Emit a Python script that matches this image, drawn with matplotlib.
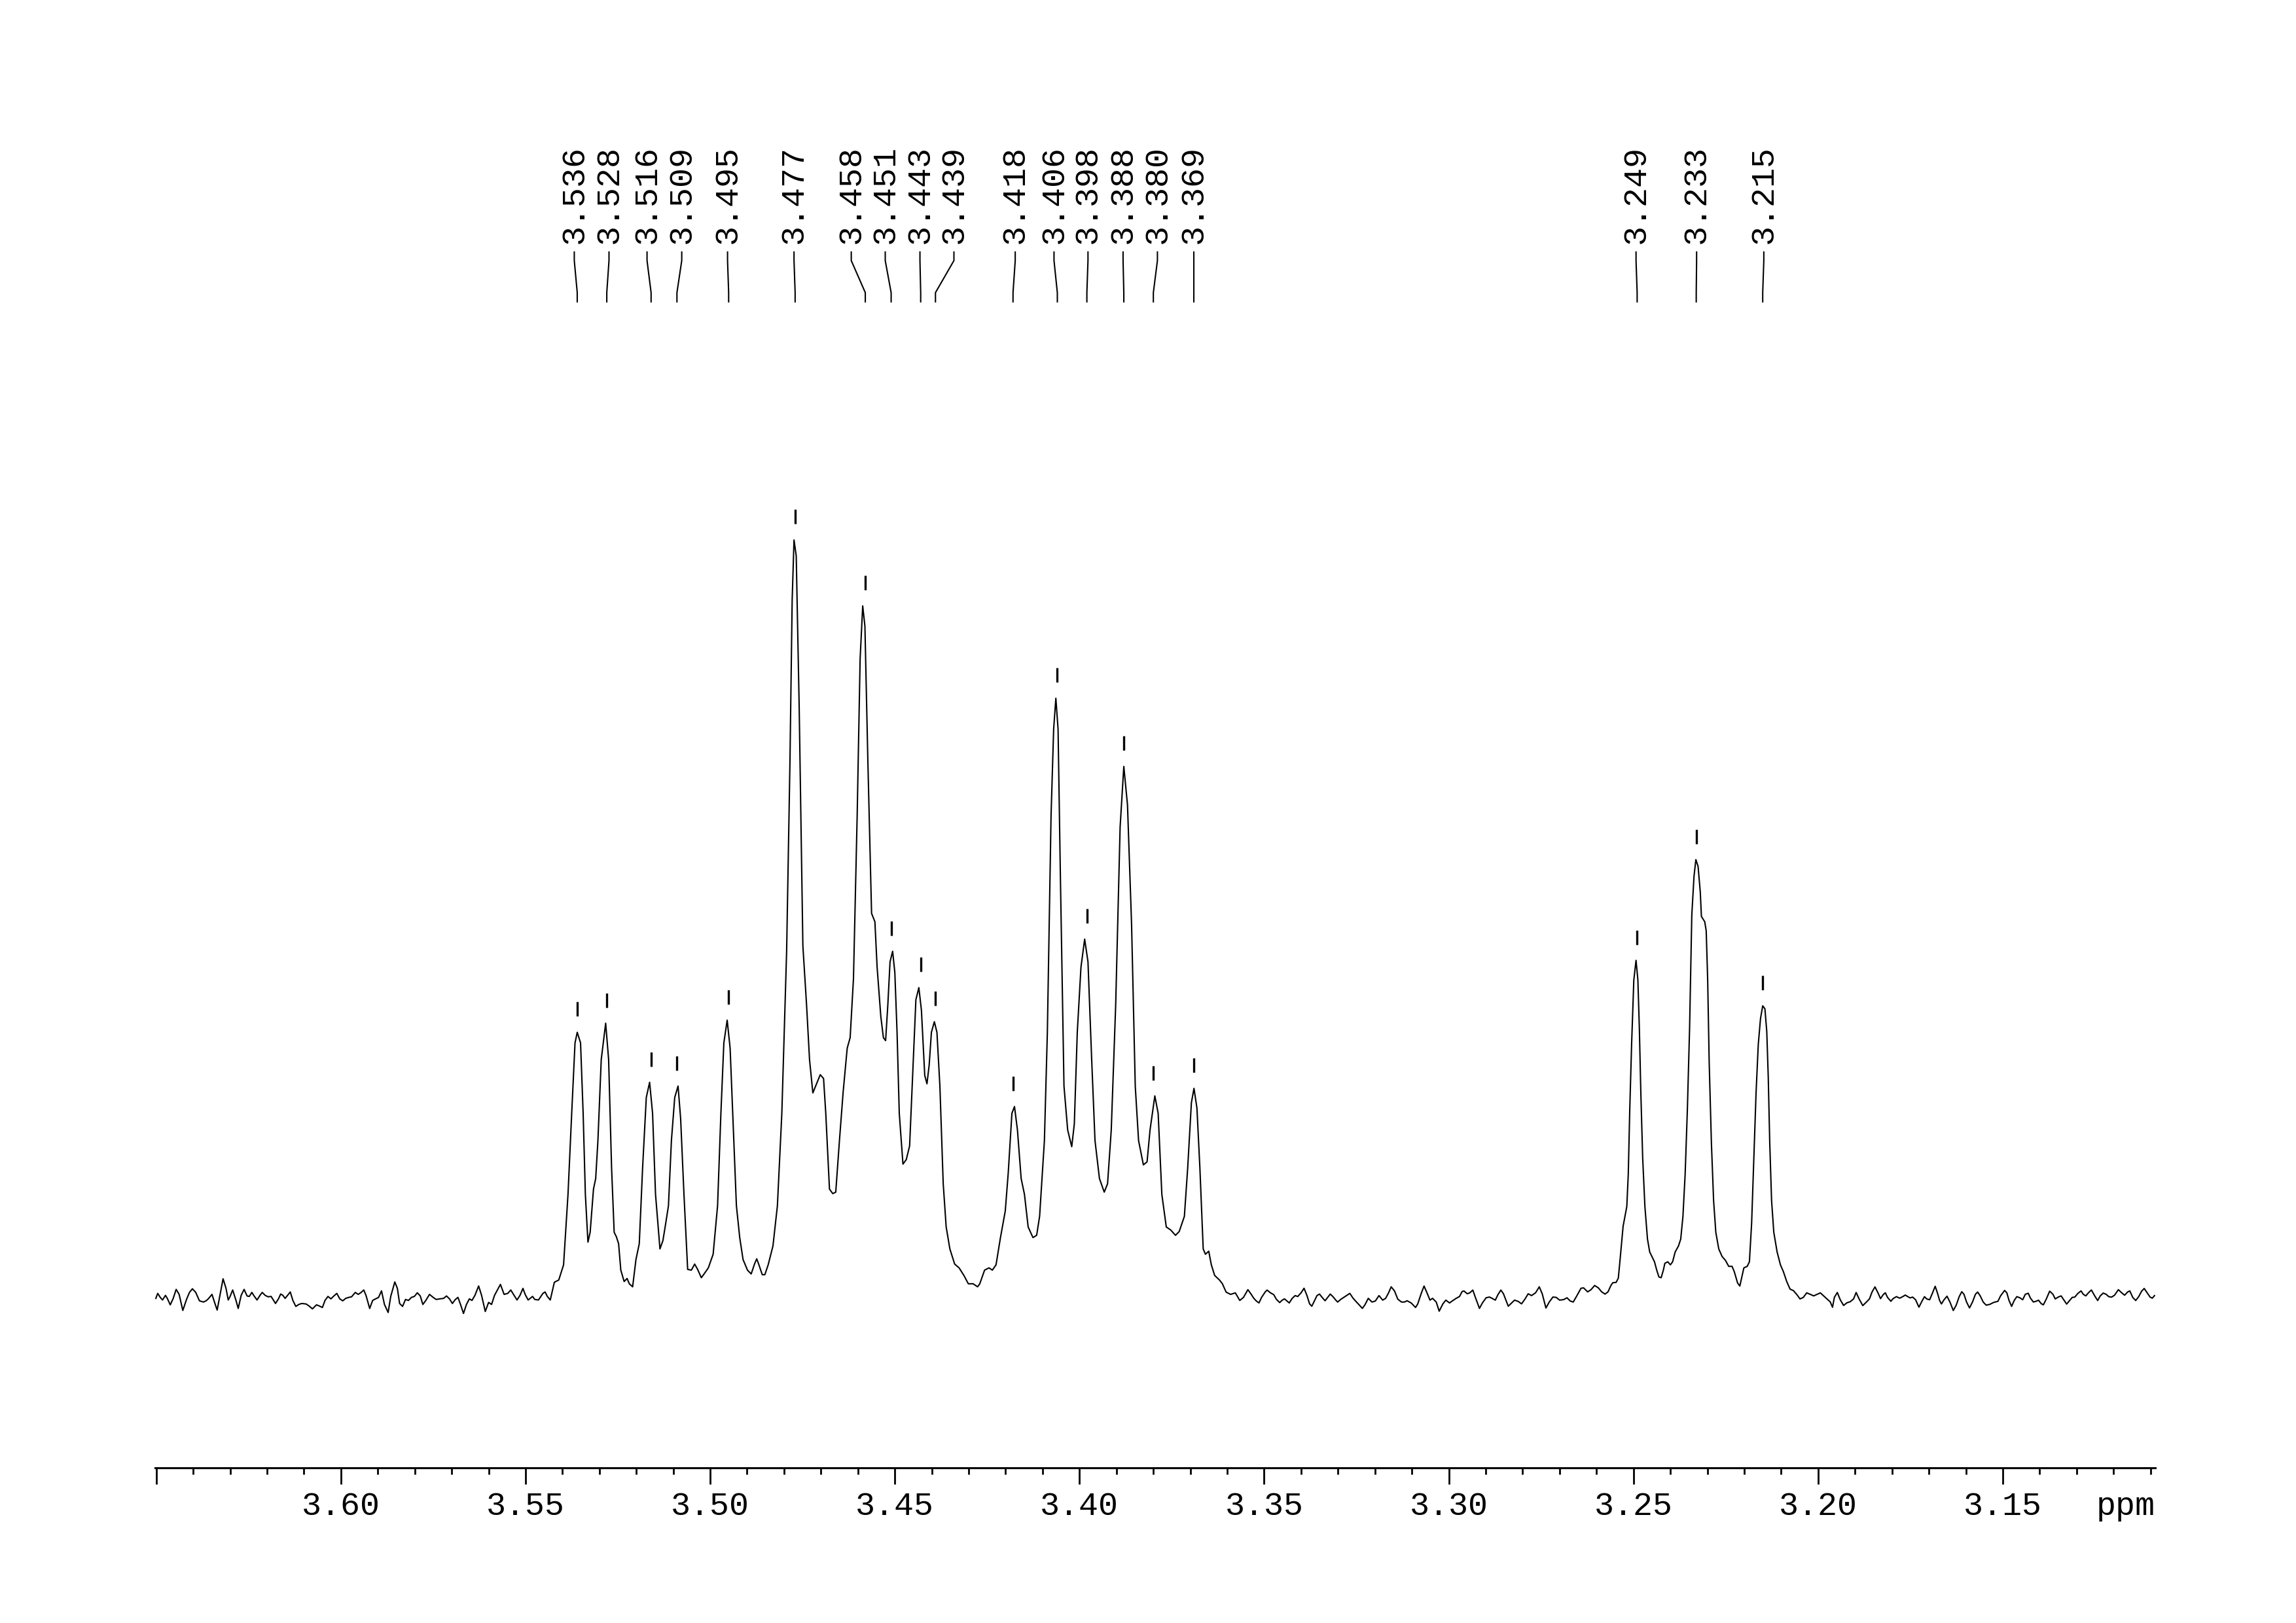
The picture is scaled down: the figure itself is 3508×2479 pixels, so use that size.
import matplotlib
matplotlib.use("Agg")
import matplotlib.pyplot as plt
import matplotlib.transforms as mtransforms
import numpy as np

# ---------------- data ----------------
# traced spectrum: chemical shift (ppm) and intensity (tallest peak = 100)
spec_ppm = [
    3.6501, 3.6496, 3.6489, 3.6483, 3.6475, 3.6470, 3.6462, 3.6454, 3.6446, 3.6438,
    3.6428, 3.6418, 3.6410, 3.6402, 3.6393, 3.6383, 3.6372, 3.6365, 3.6359, 3.6349,
    3.6342, 3.6335, 3.6327, 3.6319, 3.6311, 3.6305, 3.6300, 3.6293, 3.6284, 3.6278,
    3.6270, 3.6262, 3.6254, 3.6248, 3.6241, 3.6235, 3.6227, 3.6219, 3.6213, 3.6205,
    3.6197, 3.6189, 3.6177, 3.6169, 3.6163, 3.6157, 3.6151, 3.6137, 3.6130, 3.6122,
    3.6114, 3.6106, 3.6094, 3.6086, 3.6077, 3.6066, 3.6058, 3.6050, 3.6043, 3.6035,
    3.6027, 3.6019, 3.6011, 3.6003, 3.5995, 3.5987, 3.5979, 3.5971, 3.5961, 3.5953,
    3.5945, 3.5938, 3.5932, 3.5922, 3.5914, 3.5906, 3.5898, 3.5890, 3.5882, 3.5872,
    3.5865, 3.5854, 3.5847, 3.5841, 3.5833, 3.5825, 3.5817, 3.5809, 3.5801, 3.5793,
    3.5785, 3.5778, 3.5770, 3.5760, 3.5750, 3.5742, 3.5732, 3.5722, 3.5714, 3.5706,
    3.5698, 3.5690, 3.5683, 3.5676, 3.5668, 3.5660, 3.5652, 3.5645, 3.5637, 3.5627,
    3.5619, 3.5609, 3.5600, 3.5592, 3.5584, 3.5568, 3.5558, 3.5548, 3.5540, 3.5531,
    3.5523, 3.5515, 3.5507, 3.5501, 3.5493, 3.5481, 3.5475, 3.5465, 3.5453, 3.5447,
    3.5441, 3.5433,
    3.5422, 3.5410, 3.5397, 3.5385, 3.5375, 3.5366, 3.5360, 3.5351, 3.5344, 3.5338,
    3.5331, 3.5325, 3.5316, 3.5310, 3.5304, 3.5295, 3.5283, 3.5275, 3.5267, 3.5260,
    3.5254, 3.5248, 3.5242, 3.5233, 3.5225, 3.5219, 3.5210, 3.5201, 3.5192, 3.5183,
    3.5173, 3.5164, 3.5156, 3.5148, 3.5136, 3.5128, 3.5121, 3.5113, 3.5105, 3.5096,
    3.5087, 3.5080, 3.5071, 3.5061, 3.5051, 3.5042, 3.5034, 3.5024, 3.5015, 3.5005,
    3.4992, 3.4980, 3.4971, 3.4963, 3.4954, 3.4946, 3.4936, 3.4929, 3.4920, 3.4911,
    3.4899, 3.4889, 3.4880, 3.4874, 3.4868, 3.4859, 3.4852, 3.4843, 3.4830, 3.4818,
    3.4806, 3.4793, 3.4784, 3.4778, 3.4773, 3.4767, 3.4759, 3.4749, 3.4739, 3.4731,
    3.4722, 3.4712, 3.4702, 3.4693, 3.4687, 3.4677, 3.4668, 3.4660, 3.4650, 3.4640,
    3.4629, 3.4621, 3.4612, 3.4602, 3.4594, 3.4587, 3.4581, 3.4573, 3.4563, 3.4554,
    3.4548, 3.4538, 3.4531, 3.4525, 3.4519, 3.4513, 3.4506, 3.4500, 3.4494, 3.4488,
    3.4478, 3.4469, 3.4460, 3.4453, 3.4443, 3.4435, 3.4428, 3.4419, 3.4413, 3.4407,
    3.4401, 3.4393, 3.4386, 3.4378, 3.4369, 3.4361, 3.4351, 3.4338, 3.4326, 3.4313,
    3.4301, 3.4288, 3.4276, 3.4270, 3.4257, 3.4245, 3.4236, 3.4226, 3.4214, 3.4201,
    3.4193, 3.4183, 3.4176, 3.4168, 3.4158, 3.4149, 3.4139, 3.4126, 3.4116, 3.4108,
    3.4095, 3.4087, 3.4077, 3.4070, 3.4064, 3.4058, 3.4052, 3.4042, 3.4032, 3.4021,
    3.4014, 3.4006, 3.3996, 3.3986, 3.3977, 3.3967, 3.3958, 3.3946, 3.3933, 3.3924,
    3.3914, 3.3902, 3.3890, 3.3880, 3.3870, 3.3859, 3.3849, 3.3840, 3.3827, 3.3817,
    3.3809, 3.3796, 3.3787, 3.3777, 3.3765, 3.3753, 3.3740, 3.3730, 3.3716, 3.3707,
    3.3697, 3.3690, 3.3682, 3.3674, 3.3665, 3.3659, 3.3650, 3.3643, 3.3634, 3.3621,
    3.3613, 3.3603, 3.3591, 3.3578, 3.3566, 3.3556,
    3.3544, 3.3536, 3.3528, 3.3521, 3.3514, 3.3507, 3.3497, 3.3492, 3.3483, 3.3474,
    3.3467, 3.3458, 3.3451, 3.3445, 3.3438, 3.3432, 3.3424, 3.3416, 3.3409, 3.3400,
    3.3392, 3.3384, 3.3377, 3.3371, 3.3364, 3.3357, 3.3350, 3.3343, 3.3335, 3.3328,
    3.3321, 3.3314, 3.3306, 3.3301, 3.3292, 3.3283, 3.3268, 3.3259, 3.3250, 3.3243,
    3.3234, 3.3227, 3.3218, 3.3208, 3.3199, 3.3189, 3.3179, 3.3171, 3.3163, 3.3156,
    3.3147, 3.3138, 3.3128, 3.3120, 3.3113, 3.3102, 3.3090, 3.3084, 3.3075, 3.3067,
    3.3058, 3.3051, 3.3044, 3.3034, 3.3026, 3.3016, 3.3008, 3.2998, 3.2991, 3.2980,
    3.2971, 3.2964, 3.2959, 3.2950, 3.2943, 3.2935, 3.2928, 3.2917, 3.2909, 3.2899,
    3.2890, 3.2883, 3.2874, 3.2867, 3.2859, 3.2852, 3.2839, 3.2830, 3.2822, 3.2812,
    3.2803, 3.2794, 3.2785, 3.2776, 3.2765, 3.2755, 3.2747, 3.2737, 3.2728, 3.2718,
    3.2709, 3.2700, 3.2689, 3.2680, 3.2671, 3.2663, 3.2653, 3.2642, 3.2635, 3.2624,
    3.2615, 3.2605, 3.2595, 3.2586, 3.2577, 3.2569, 3.2561, 3.2556, 3.2547, 3.2541,
    3.2536, 3.2528, 3.2523, 3.2518, 3.2514, 3.2510, 3.2505, 3.2499, 3.2493, 3.2488,
    3.2484, 3.2480, 3.2475, 3.2469, 3.2462, 3.2456, 3.2450, 3.2443, 3.2437, 3.2431,
    3.2425, 3.2419, 3.2415, 3.2407, 3.2400, 3.2394, 3.2387, 3.2378, 3.2372, 3.2366,
    3.2360, 3.2354, 3.2348, 3.2342, 3.2336, 3.2331, 3.2325, 3.2319, 3.2316, 3.2307,
    3.2303, 3.2299, 3.2295, 3.2289, 3.2283, 3.2277, 3.2269, 3.2260, 3.2251, 3.2242,
    3.2233, 3.2227, 3.2218, 3.2212, 3.2207, 3.2201, 3.2192, 3.2186, 3.2180, 3.2174,
    3.2168, 3.2162, 3.2156, 3.2150, 3.2144, 3.2139, 3.2135, 3.2131, 3.2126, 3.2120,
    3.2111, 3.2102, 3.2094, 3.2085, 3.2076, 3.2067, 3.2058, 3.2049, 3.2040, 3.2031,
    3.2021, 3.2012, 3.2003, 3.1994, 3.1985, 3.1976, 3.1967, 3.1961,
    3.1956, 3.1948, 3.1940, 3.1931, 3.1922, 3.1913, 3.1904, 3.1897, 3.1889, 3.1879,
    3.1870, 3.1861, 3.1854, 3.1846, 3.1838, 3.1831, 3.1823, 3.1818, 3.1812, 3.1803,
    3.1797, 3.1788, 3.1779, 3.1771, 3.1764, 3.1757, 3.1751, 3.1744, 3.1736, 3.1727,
    3.1720, 3.1712, 3.1706, 3.1698, 3.1690, 3.1683, 3.1677, 3.1671, 3.1666, 3.1659,
    3.1651, 3.1643, 3.1634, 3.1626, 3.1618, 3.1611, 3.1605, 3.1598, 3.1590, 3.1582,
    3.1574, 3.1568, 3.1561, 3.1553, 3.1545, 3.1535, 3.1525, 3.1513, 3.1506, 3.1495,
    3.1489, 3.1483, 3.1476, 3.1469, 3.1462, 3.1454, 3.1446, 3.1439, 3.1431, 3.1425,
    3.1417, 3.1410, 3.1403, 3.1396, 3.1390, 3.1382, 3.1373, 3.1364, 3.1358, 3.1350,
    3.1342, 3.1335, 3.1327, 3.1319, 3.1312, 3.1305, 3.1297, 3.1288, 3.1282, 3.1275,
    3.1268, 3.1260, 3.1251, 3.1243, 3.1236, 3.1228, 3.1220, 3.1213, 3.1205, 3.1197,
    3.1187, 3.1178, 3.1170, 3.1162, 3.1156, 3.1148, 3.1140, 3.1132, 3.1124, 3.1117,
    3.1109, 3.1101, 3.1095, 3.1089,
]
spec_int = [
    -0.13, 0.53, 0.00, -0.34, 0.27, -0.13, -0.98, -0.13, 1.06, 0.40,
    -1.72, -0.27, 0.66, 1.14, 0.66, -0.45, -0.61, -0.45, -0.19, 0.40,
    -0.66, -1.67, 0.40, 2.46, 1.19, -0.34, 0.13, 0.98, -0.40, -1.46,
    0.27, 1.06, 0.19, 0.13, 0.66, 0.19, -0.34, 0.27, 0.66, 0.27,
    0.08, 0.13, -0.80, -0.19, 0.45, 0.27, -0.13, 0.72, -0.40, -1.19,
    -0.93, -0.80, -0.87, -1.14, -1.51, -0.98, -1.14, -1.33, -0.40, 0.13,
    -0.19, 0.19, 0.53, -0.19, -0.45, -0.13, 0.00, 0.08, 0.66, 0.40,
    0.66, 0.98, 0.27, -1.46, -0.40, -0.19, 0.00, 0.87, -0.93, -1.99,
    0.13, 2.04, 1.19, -0.80, -1.19, -0.27, -0.40, 0.00, 0.13, 0.61,
    0.19, -0.93, -0.40, 0.40, 0.00, -0.27, -0.19, -0.13, 0.19, -0.19,
    -0.80, -0.27, 0.00, -0.93, -2.12, -0.93, -0.19, -0.40, 0.27, 1.51,
    0.27, -1.86, -0.66, -0.93, 0.27, 1.72, 0.40, 0.53, 0.98, 0.27,
    -0.34, 0.27, 1.19, 0.40, -0.34, 0.13, -0.27, -0.34, 0.53, 0.72,
    0.13, -0.34,
    2.0, 2.3, 4.3, 13.6, 24.3, 33.6, 35.0, 33.6, 24.3, 13.6,
    7.3, 8.6, 14.3, 15.7, 20.7, 31.4, 36.2, 31.4, 17.1, 8.6,
    8.0, 7.1, 3.6, 2.1, 2.5, 1.8, 1.4, 5.0, 7.1, 17.1,
    26.4, 28.4, 24.3, 13.6, 6.4, 7.5, 9.6, 12.1, 20.7, 26.4,
    27.9, 23.6, 13.6, 3.7, 3.6, 4.4, 3.7, 2.6, 3.2, 3.9,
    5.7, 12.1, 24.3, 33.6, 36.6, 32.9, 20.7, 12.1, 7.9, 5.0,
    3.6, 3.1, 4.4, 5.1, 4.3, 3.0, 3.0, 4.3, 6.8, 12.1,
    24.3, 45.7, 70.7, 92.1, 100.0, 97.9, 77.9, 46.4, 38.6, 31.4,
    27.0, 28.2, 29.4, 28.9, 24.3, 14.3, 13.7, 13.9, 20.7, 27.1,
    32.9, 34.3, 42.1, 63.6, 84.3, 91.3, 88.6, 70.7, 50.7, 49.6,
    43.6, 37.1, 34.3, 33.9, 38.6, 44.3, 45.7, 42.9, 35.0, 24.3,
    17.6, 18.2, 20.0, 27.9, 39.3, 40.9, 37.9, 29.3, 28.2, 30.7,
    35.0, 36.4, 35.0, 27.9, 15.0, 9.3, 6.4, 4.4, 3.9, 2.9,
    1.8, 1.8, 1.4, 1.8, 3.6, 3.9, 3.6, 4.3, 7.9, 11.4,
    16.4, 24.3, 25.2, 22.1, 15.7, 13.6, 9.3, 7.9, 8.2, 10.7,
    20.7, 35.0, 63.6, 75.0, 79.1, 75.0, 56.4, 27.9, 22.1, 19.9,
    22.9, 35.0, 43.6, 47.3, 44.3, 31.4, 20.7, 15.7, 13.9, 15.0,
    22.1, 38.6, 62.1, 70.1, 65.0, 49.3, 27.9, 20.7, 17.5, 17.9,
    22.1, 26.6, 24.3, 13.6, 9.3, 8.9, 8.2, 8.7, 10.7, 17.1,
    25.7, 27.6, 25.0, 17.1, 6.4, 5.7, 6.1, 4.3, 2.9, 2.3,
    1.8, 0.7, 0.4, 0.6, -0.4, 0.0,
    1.02, 0.48, -0.12, -0.48, -0.73, 0.00, 0.73, 0.97, 0.61, 0.36,
    -0.24, -0.68, -0.36, -0.19, -0.48, -0.73, -0.12, 0.24, 0.12, 0.61,
    1.21, 0.24, -0.85, -1.16, -0.48, 0.24, 0.44, 0.00, -0.44, 0.00,
    0.44, 0.12, -0.36, -0.61, -0.24, 0.05, 0.53, -0.12, -0.61, -0.97,
    -1.45, -0.97, -0.12, -0.61, -0.48, 0.24, -0.36, -0.12, 0.61, 1.40,
    0.85, -0.24, -0.61, -0.61, -0.44, -0.73, -1.33, -0.85, 0.48, 1.50,
    0.48, -0.36, -0.12, -0.61, -1.82, -0.85, -0.36, -0.73, -0.48, -0.12,
    0.12, 0.77, 0.85, 0.48, 0.61, 0.97, 0.00, -1.45, -0.73, -0.05,
    0.05, -0.12, -0.36, 0.36, 0.97, 0.48, -1.16, -0.73, -0.36, -0.53,
    -0.85, -0.24, 0.48, 0.24, 0.61, 1.40, 0.48, -1.40, -0.61, 0.05,
    0.00, -0.36, -0.29, -0.05, -0.48, -0.61, 0.24, 1.21, 1.26, 0.73,
    1.02, 1.57, 1.26, 0.73, 0.44, 0.73, 1.57, 1.94, 1.98, 2.54,
    5.1, 9.4, 10.7, 12.0, 16.3, 24.8, 33.4, 41.9, 44.5, 41.9,
    35.5, 27.0, 18.4, 12.0, 7.7, 6.0, 5.4, 4.7, 3.6, 2.7,
    2.6, 3.6, 4.5, 4.7, 4.3, 4.7, 6.0, 6.8, 7.7, 10.7,
    16.3, 24.8, 35.5, 50.5, 55.6, 57.8, 56.9, 53.5, 50.3, 49.6,
    48.4, 41.9, 31.2, 20.5, 12.8, 8.6, 6.4, 5.4, 4.9, 4.1,
    4.1, 3.4, 1.9, 1.5, 2.6, 3.9, 4.1, 4.7, 9.8, 18.4,
    27.0, 33.4, 36.8, 38.5, 38.1, 35.1, 29.1, 20.5, 12.8, 8.6,
    6.0, 4.3, 3.4, 2.1, 1.1, 0.9, 0.4, -0.2, 0.0, 0.6,
    0.4, 0.2, 0.4, 0.6, 0.2, -0.2, -0.6, -1.3,
    0.00, 0.65, -0.31, -1.06, -0.71, -0.57, -0.20, 0.65, -0.20, -1.08,
    -0.65, -0.20, 0.71, 1.39, 0.61, -0.16, 0.41, 0.61, 0.00, -0.51,
    -0.16, 0.10, -0.10, 0.10, 0.31, 0.10, -0.06, 0.04, -0.31, -1.29,
    -0.61, 0.10, -0.20, -0.31, 0.61, 1.47, 0.61, -0.41, -0.86, -0.31,
    0.16, -0.61, -1.73, -1.02, 0.10, 0.75, 0.41, -0.61, -1.39, -0.61,
    0.41, 0.71, 0.20, -0.61, -1.02, -0.92, -0.67, -0.51, 0.20, 0.92,
    0.61, -0.41, -1.18, -0.41, 0.10, -0.04, -0.31, 0.41, 0.55, -0.10,
    -0.61, -0.51, -0.37, -0.82, -0.98, -0.20, 0.82, 0.41, -0.20, 0.04,
    0.20, -0.31, -0.88, -0.41, 0.00, 0.04, 0.51, 0.86, 0.41, 0.20,
    0.61, 0.98, 0.20, -0.41, 0.20, 0.57, 0.41, 0.10, 0.04, 0.31,
    1.02, 0.61, 0.29, 0.71, 0.86, 0.00, -0.41, 0.10, 0.82, 1.18,
    0.61, 0.04, -0.10, 0.24,
]

# picked peaks
peak_ppm = [3.536, 3.528, 3.516, 3.509, 3.495, 3.477, 3.458, 3.451, 3.443, 3.439,
            3.418, 3.406, 3.398, 3.388, 3.380, 3.369, 3.249, 3.233, 3.215]
peak_text = ["3.536", "3.528", "3.516", "3.509", "3.495", "3.477", "3.458", "3.451",
             "3.443", "3.439", "3.418", "3.406", "3.398", "3.388", "3.380", "3.369",
             "3.249", "3.233", "3.215"]
peak_int = [35.0, 36.2, 28.4, 27.9, 36.6, 100.0, 91.3, 45.7, 40.9, 36.4,
            25.2, 79.1, 47.3, 70.1, 26.6, 27.6, 44.5, 57.8, 38.5]

# axis ticks
major_ticks = [3.65, 3.60, 3.55, 3.50, 3.45, 3.40, 3.35, 3.30, 3.25, 3.20, 3.15]
major_labels = ["", "3.60", "3.55", "3.50", "3.45", "3.40", "3.35", "3.30",
                "3.25", "3.20", "3.15"]
axis_unit = "ppm"

# ---------------- layout ----------------
# label columns (spread apart where peaks are crowded)
label_pos = [3.5368, 3.5274, 3.5171, 3.5077, 3.4953, 3.4773, 3.4618, 3.4526,
             3.4432, 3.4340, 3.4174, 3.4069, 3.3977, 3.3882, 3.3789, 3.3690,
             3.2493, 3.2329, 3.2147]

W, H = 3508, 2479
fig = plt.figure(figsize=(W / 100, H / 100), dpi=100)
fig.patch.set_facecolor("white")

ax_left, ax_right = 237, 3293
ax_bottom_px, ax_top_px = 2242, 200
ax = fig.add_axes([ax_left / W, (H - ax_bottom_px) / H,
                   (ax_right - ax_left) / W, (ax_bottom_px - ax_top_px) / H])

ax.plot(spec_ppm, spec_int, color="black", lw=1.5, solid_joinstyle="round")
ax.set_xlim(3.6503, 3.1087)
ax.set_ylim(-22.5, 154.0)

for s in ["top", "left", "right"]:
    ax.spines[s].set_visible(False)
ax.spines["bottom"].set_linewidth(2.2)
ax.yaxis.set_visible(False)
ax.patch.set_alpha(0)

ax.set_xticks(major_ticks)
ax.set_xticklabels(major_labels)
minor = [round(3.11 + 0.01 * i, 2) for i in range(55)]
minor = [m for m in minor if all(abs(m - t) > 1e-6 for t in major_ticks)]
ax.set_xticks(minor, minor=True)
ax.tick_params(axis="x", which="major", direction="out", length=18, width=2.0,
               pad=8, labelsize=36, colors="black")
ax.tick_params(axis="x", which="minor", direction="out", length=7, width=2.0)
for lbl in ax.get_xticklabels():
    lbl.set_fontfamily("Liberation Mono")

offset = mtransforms.ScaledTranslation(0, -(18 + 8) / 72, fig.dpi_scale_trans)
ax.text(3.1167, 0, axis_unit, transform=ax.get_xaxis_transform() + offset,
        ha="center", va="top", fontsize=36, family="Liberation Mono")

# peak markers
ax.vlines(peak_ppm, np.array(peak_int) + 2.1, np.array(peak_int) + 4.0,
          color="black", lw=2.4)

# peak labels with leader lines
trans = mtransforms.blended_transform_factory(ax.transData, fig.transFigure)
y_text = 1 - 372 / H
y1, y2, y3, y4 = 1 - 385 / H, 1 - 398 / H, 1 - 447 / H, 1 - 461 / H
for lp, pp, txt in zip(label_pos, peak_ppm, peak_text):
    ax.text(lp, y_text, txt, rotation=90, ha="center", va="bottom",
            transform=trans, fontsize=36, family="Liberation Mono", clip_on=False)
    ax.plot([lp, lp, pp, pp], [y1, y2, y3, y4], transform=trans, color="black",
            lw=1.5, clip_on=False)

fig.savefig("out.png", dpi=100, facecolor="white")
